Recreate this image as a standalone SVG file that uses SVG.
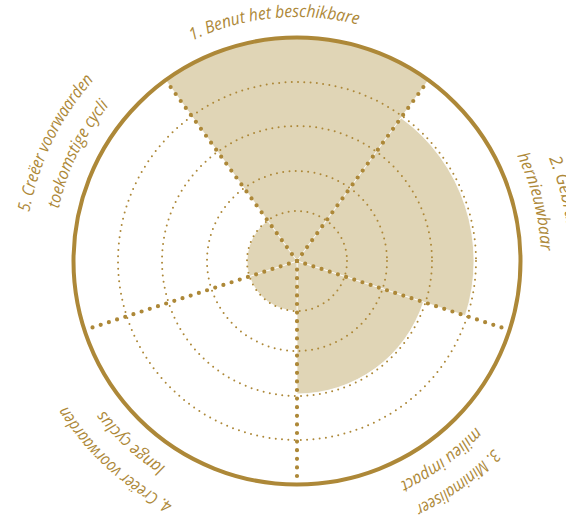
<svg xmlns="http://www.w3.org/2000/svg" width="566" height="521" viewBox="0 0 566 521">
<style>
.fill{fill:#e0d5b6;stroke:#ffffff;stroke-width:0.8}
.grid{fill:none;stroke:#ad8838;stroke-width:2;stroke-dasharray:0 6.3;stroke-linecap:round}
.spoke{fill:none;stroke:#ad8838;stroke-width:4.2;stroke-dasharray:0 8.6;stroke-linecap:round}
.outer{fill:none;stroke:#ad8838;stroke-width:4}
.lbl{font-family:"Open Sans","Liberation Sans",sans-serif;font-style:italic;font-size:17px;fill:#ad8838}
.tp{fill:none;stroke:none}
</style>
<defs>
<path id="p1" class="tp" d="M53.75,241.86 A244,244 0 0 1 532.13,195.79"/>
<path id="p2o" class="tp" d="M278.03,-10.34 A272,272 0 0 1 407.63,509.49"/>
<path id="p2i" class="tp" d="M279.98,17.60 A244,244 0 0 1 396.24,483.91"/>
<path id="p3o" class="tp" d="M541.47,141.76 A272,272 0 0 1 108.05,456.66"/>
<path id="p3i" class="tp" d="M516.30,154.04 A244,244 0 0 1 127.50,436.52"/>
<path id="p4o" class="tp" d="M462.58,476.79 A272,272 0 0 1 67.60,114.85"/>
<path id="p4i" class="tp" d="M445.54,454.58 A244,244 0 0 1 91.21,129.90"/>
<path id="p5o" class="tp" d="M137.12,481.05 A272,272 0 0 1 371.97,-0.46"/>
<path id="p5i" class="tp" d="M153.58,458.40 A244,244 0 0 1 364.26,26.45"/>
</defs>
<rect width="566" height="521" fill="#ffffff"/>

<g id="sector-1">
<path class="fill" d="M297,261 L165.34,79.78 A224,224 0 0 1 428.66,79.78 Z"/>
</g>
<g id="sector-2">
<path class="fill" d="M297,261 L401.04,117.80 A177,177 0 0 1 465.34,315.70 Z"/>
</g>
<g id="sector-3">
<path class="fill" d="M297,261 L423.49,302.10 A133,133 0 0 1 297,394 Z"/>
</g>
<g id="sector-4">
<path class="fill" d="M297,261 L297,311 A50,50 0 0 1 249.45,276.45 Z"/>
</g>
<g id="sector-5">
<path class="fill" d="M297,261 L249.45,276.45 A50,50 0 0 1 267.61,220.55 Z"/>
</g>

<g id="grid">
<circle class="grid" cx="297" cy="261" r="50"/>
<circle class="grid" cx="297" cy="261" r="90"/>
<circle class="grid" cx="297" cy="261" r="135"/>
<circle class="grid" cx="297" cy="261" r="179"/>
<circle class="outer" cx="297" cy="261" r="223.5"/>
</g>

<g id="connectors">
<line class="spoke" x1="297" y1="261" x2="169.75" y2="85.86"/>
<line class="spoke" x1="297" y1="261" x2="424.25" y2="85.86"/>
<line class="spoke" x1="297" y1="261" x2="502.91" y2="327.91"/>
<line class="spoke" x1="297" y1="261" x2="297" y2="477.5"/>
<line class="spoke" x1="297" y1="261" x2="91.09" y2="327.91"/>
</g>

<g id="labels">
<g id="label-1"><text class="lbl"><textPath href="#p1" startOffset="50%" text-anchor="middle" textLength="170" lengthAdjust="spacingAndGlyphs">1. Benut het beschikbare</textPath></text></g>
<g id="label-2">
<text class="lbl"><textPath href="#p2o" startOffset="50%" text-anchor="middle" textLength="78" lengthAdjust="spacingAndGlyphs">2. Gebruik</textPath></text>
<text class="lbl"><textPath href="#p2i" startOffset="50%" text-anchor="middle" textLength="99" lengthAdjust="spacingAndGlyphs">hernieuwbaar</textPath></text>
</g>
<g id="label-3">
<text class="lbl"><textPath href="#p3o" startOffset="50%" text-anchor="middle" textLength="98" lengthAdjust="spacingAndGlyphs">3. Minimaliseer</textPath></text>
<text class="lbl"><textPath href="#p3i" startOffset="50%" text-anchor="middle" textLength="94" lengthAdjust="spacingAndGlyphs">milieu impact</textPath></text>
</g>
<g id="label-4">
<text class="lbl"><textPath href="#p4o" startOffset="50%" text-anchor="middle" textLength="146" lengthAdjust="spacingAndGlyphs">4. Creëer voorwaarden</textPath></text>
<text class="lbl"><textPath href="#p4i" startOffset="50%" text-anchor="middle" textLength="84" lengthAdjust="spacingAndGlyphs">lange cyclus</textPath></text>
</g>
<g id="label-5">
<text class="lbl"><textPath href="#p5o" startOffset="50%" text-anchor="middle" textLength="149" lengthAdjust="spacingAndGlyphs">5. Creëer voorwaarden</textPath></text>
<text class="lbl"><textPath href="#p5i" startOffset="50%" text-anchor="middle" textLength="116" lengthAdjust="spacingAndGlyphs">toekomstige cycli</textPath></text>
</g>
</g>
</svg>
